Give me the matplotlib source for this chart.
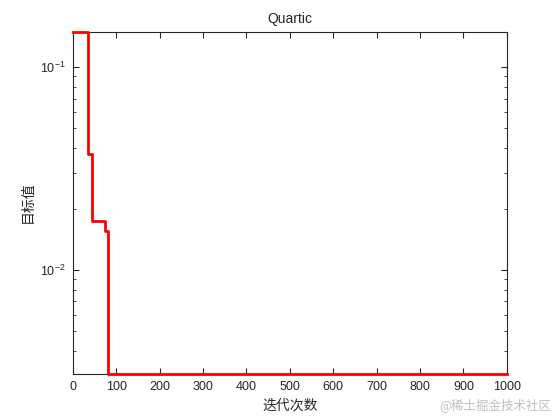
import numpy as np
import matplotlib.pyplot as plt

plt.rcParams['font.family'] = ['Liberation Sans', 'Noto Sans CJK SC', 'DejaVu Sans']
plt.rcParams['text.color'] = '#262626'
plt.rcParams['axes.labelcolor'] = '#262626'
plt.rcParams['xtick.color'] = '#262626'
plt.rcParams['ytick.color'] = '#262626'

# step curve: iteration where the best value changes, and the value from there on
change_iters = [1, 35, 44, 74, 81, 1000]
best_values = [0.150, 0.0372, 0.0175, 0.0155, 0.00308, 0.00308]
x_ticks = [0, 100, 200, 300, 400, 500, 600, 700, 800, 900, 1000]

fig = plt.figure(figsize=(5.6, 4.2), dpi=100)
ax = fig.add_axes([0.13, 0.11, 0.775, 0.815])

ax.plot(change_iters, best_values, color='#ff0000', linewidth=2,
        drawstyle='steps-post', clip_on=False, zorder=3)
ax.set_yscale('log')
ax.set_xlim(0, 1000)
ax.set_ylim(min(best_values), max(best_values))
ax.set_xticks(x_ticks)

ax.tick_params(which='both', direction='in', top=True, right=True, labelsize=9)
ax.tick_params(which='major', length=4, pad=5)
ax.tick_params(which='minor', length=2)
for s in ax.spines.values():
    s.set_linewidth(0.8)
    s.set_color('#262626')

ax.set_title('Quartic', fontsize=10)
ax.set_xlabel('迭代次数', fontsize=10, family=['Noto Sans CJK SC', 'DejaVu Sans'])
ax.set_ylabel('目标值', fontsize=10, family=['Noto Sans CJK SC', 'DejaVu Sans'])

fig.text(0.985, 0.02, '@稀土掘金技术社区', ha='right', va='bottom', fontsize=9,
         color='#c0c0c0', family=['Noto Sans CJK SC', 'DejaVu Sans'])

fig.savefig('out.png', dpi=100)
